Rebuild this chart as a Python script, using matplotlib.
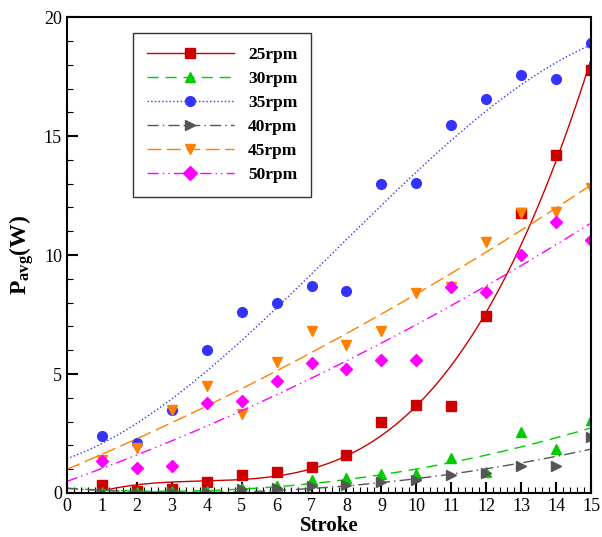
import numpy as np
import matplotlib
matplotlib.use("Agg")
import matplotlib.pyplot as plt
from matplotlib.ticker import MultipleLocator

plt.rcParams['font.family'] = ['Liberation Serif', 'DejaVu Serif']
plt.rcParams['mathtext.fontset'] = 'custom'
plt.rcParams['mathtext.rm'] = 'Liberation Serif'
plt.rcParams['mathtext.bf'] = 'Liberation Serif:bold'

stroke = np.arange(1, 16)
p25 = [0.35, 0.1, 0.15, 0.45, 0.75, 0.9, 1.1, 1.6, 3.0, 3.7, 3.65, 7.45, 11.75, 14.2, 17.8]
p30 = [0.05, 0.05, 0.1, 0.1, 0.2, 0.3, 0.55, 0.65, 0.8, 0.8, 1.45, 0.9, 2.55, 1.85, 3.05]
p35 = [2.4, 2.1, 3.5, 6.0, 7.6, 8.0, 8.7, 8.5, 13.0, 13.05, 15.45, 16.55, 17.55, 17.4, 18.9]
p40 = [0.0, 0.0, 0.05, 0.05, 0.15, 0.2, 0.3, 0.35, 0.45, 0.55, 0.75, 0.85, 1.15, 1.15, 2.35]
p45 = [1.4, 1.9, 3.5, 4.5, 3.3, 5.5, 6.8, 6.2, 6.8, 8.4, 8.65, 10.55, 11.75, 11.8, 12.8]
p50 = [1.35, 1.05, 1.15, 3.8, 3.85, 4.7, 5.45, 5.2, 5.6, 5.6, 8.65, 8.45, 10.0, 11.4, 10.65]
labels = ['25rpm', '30rpm', '35rpm', '40rpm', '45rpm', '50rpm']

series = [
    (p25, '#cc0000', 's', '-', 4),
    (p30, '#00cc00', '^', (0, (8, 5)), 2),
    (p35, '#3333ff', 'o', ':', 3),
    (p40, '#555555', '>', (0, (8, 3, 1, 3)), 2),
    (p45, '#ff8000', 'v', (0, (10, 4)), 2),
    (p50, '#ff00ff', 'D', (0, (8, 3, 1, 3, 1, 3)), 2),
]

fig = plt.figure(figsize=(6.02, 5.37), dpi=100)
ax = fig.add_axes([0.111, 0.082, 0.871, 0.886])
xs = np.linspace(0, 15, 300)
for (y, c, m, ls, deg), lab in zip(series, labels):
    coef = np.polyfit(stroke, y, deg)
    ax.plot(xs, np.polyval(coef, xs), color=c, ls=ls, lw=1)
    ax.plot(stroke, y, ls='none', marker=m, color=c, ms=7 if m != 'D' else 6.5)
    ax.plot([], [], color=c, ls=ls, lw=1, marker=m, ms=7, label=lab)

ax.set_xlim(0, 15)
ax.set_ylim(0, 20)
ax.xaxis.set_major_locator(MultipleLocator(1))
ax.xaxis.set_minor_locator(MultipleLocator(0.2))
ax.yaxis.set_major_locator(MultipleLocator(5))
ax.yaxis.set_minor_locator(MultipleLocator(1))
ax.tick_params(which='major', direction='in', length=8, width=1.5, labelsize=13, top=False, right=False)
ax.tick_params(which='minor', direction='in', length=4, width=0.8, top=False, right=False)
for s in ax.spines.values():
    s.set_linewidth(1.5)
ax.set_xlabel('Stroke', fontsize=15, fontweight='bold', labelpad=1)
ax.set_ylabel(r'$\mathbf{P_{avg}(W)}$', fontsize=17, labelpad=6)
leg = ax.legend(loc='upper left', bbox_to_anchor=(0.11, 0.985), fancybox=False,
                edgecolor='black', handlelength=5, borderpad=0.8,
                labelspacing=0.45, prop={'weight': 'bold', 'size': 12.5})
leg.get_frame().set_linewidth(1)
fig.savefig('out.png', dpi=100)
